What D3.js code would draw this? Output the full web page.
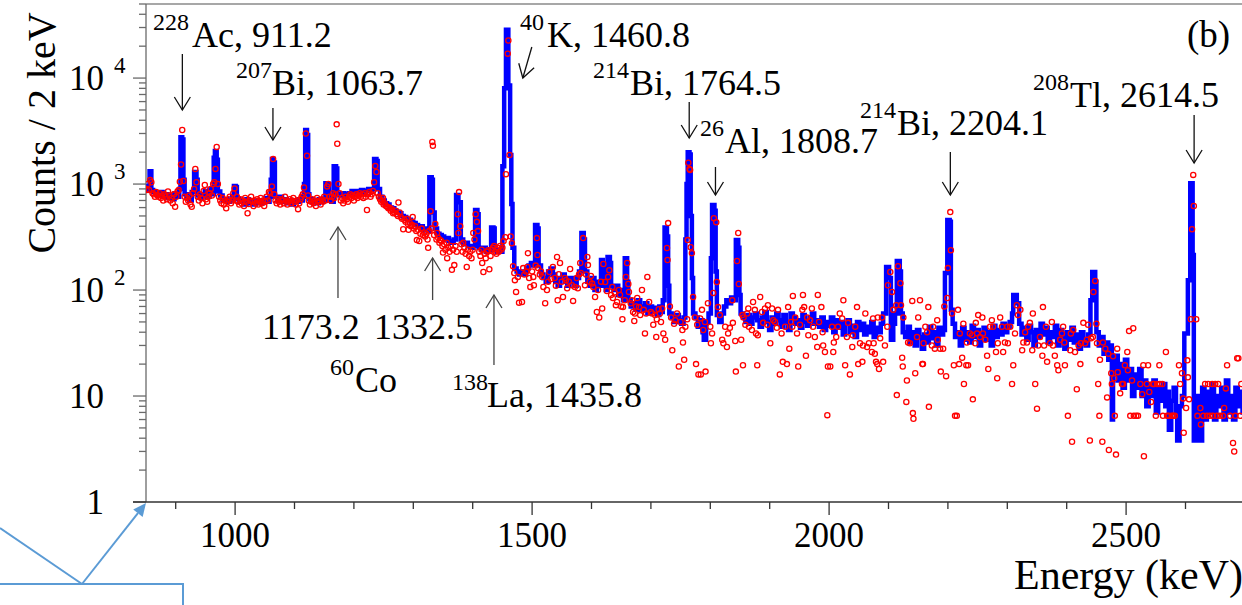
<!DOCTYPE html>
<html>
<head>
<meta charset="utf-8">
<script src="https://cdn.jsdelivr.net/npm/d3@7/dist/d3.min.js"></script>
<style>
html, body { margin: 0; padding: 0; background: #fff; }
svg { display: block; }
</style>
</head>
<body>
<svg id="chart" width="1242" height="605"></svg>
<script>
// ---- axis setup ----
const energyRange = [850, 2700];
const countRange = [1, 5e4];
const xTickValues = [1000, 1500, 2000, 2500];
const xTickLabels = ["1000", "1500", "2000", "2500"];
const yTickValues = [1, 10, 100, 1000, 10000];
const yTickBase = ["1", "10", "10", "10", "10"];
const yTickExp = ["", "", "2", "3", "4"];

// ---- blue histogram: [bin start (keV), counts / 2 keV] ----
const blueLow = [
  [850,880],[852,900],[854,960],[856,1320],[859,880],[862,840],[866,820],[870,780],[874,840],[878,760],[882,800],
  [886,740],[890,780],[894,720],[898,820],[902,760],[906,900],[908,2770],[911,2640],[913,1100],[915,800],
  [919,760],[923,700],[927,840],[931,1300],[935,1100],[937,780],[941,740],[945,800],[949,860],[953,760],
  [957,900],[961,800],[964,1770],[966,2050],[969,1700],[971,850],[975,780],[979,700],[983,720],[987,680],
  [991,700],[995,760],[998,960],[1001,940],[1003,720],[1007,680],[1011,700],[1015,640],[1019,720],[1023,660],
  [1027,700],[1031,640],[1035,680],[1039,700],[1043,660],[1047,700],[1051,740],[1055,680],[1058,760],[1060,1100],
  [1062,1720],[1065,1600],[1067,760],[1071,700],[1075,760],[1079,680],[1083,720],[1087,660],[1091,700],[1095,640],
  [1099,700],[1103,680],[1107,720],[1111,700],[1114,760],[1116,1000],[1118,3240],[1121,2900],[1123,800],[1125,720],
  [1129,680],[1133,700],[1137,660],[1141,720],[1145,680],[1149,700],[1152,1020],[1156,1000],[1158,720],[1162,680],
  [1166,1470],[1170,1400],[1172,800],[1176,780],[1180,820],[1184,760],[1188,800],[1192,820],[1196,860],[1200,800],
  [1204,860],[1208,840],[1212,880],[1216,820],[1220,860],[1224,900],[1228,880],[1231,900],[1234,1720],[1238,1650],
  [1240,900],[1244,760],[1248,700],[1252,660],[1256,640],[1260,600],[1264,590],[1268,560],[1272,540],[1276,530],
  [1280,500],[1284,490],[1288,470],[1292,460],[1296,440],[1300,430],[1304,410],[1308,400],[1312,400],[1316,380],
  [1320,370],[1324,360],[1327,1160],[1331,1100],[1333,540],[1336,380],[1340,340],[1344,330],[1348,320],[1352,300],
  [1356,310],[1360,290],[1364,280],[1368,300],[1372,790],[1376,675],[1380,300],[1384,270],[1388,280],[1392,260],
  [1396,250],[1400,260],[1404,570],[1408,520],[1410,250],[1414,240],[1418,250],[1422,230],[1426,240],[1431,390],
  [1435,380],[1437,240],[1441,230],[1445,230],[1448,230]
];
const blueMid = [
  [1450,1470],[1453,8000],[1456,28500],[1460,8500],[1463,1880],[1465,650],[1467,250],[1470,160],[1474,150],[1478,140],
  [1482,150],[1486,140],[1490,160],[1494,170],[1498,180],[1502,170],[1505,410],[1509,380],[1511,170],[1515,140],
  [1519,130],[1523,120],[1527,150],[1531,160],[1535,140],[1539,120],[1543,110],[1547,130],[1551,140],[1555,120],
  [1559,110],[1563,130],[1567,120],[1571,110],[1575,130],[1579,150],[1583,345],[1587,300],[1589,150],[1593,120],
  [1597,110],[1601,130],[1605,100],[1609,120],[1613,110],[1616,192],[1619,170],[1621,110],[1624,100],[1627,205],
  [1631,180],[1633,110],[1637,100],[1641,110],[1645,90],[1649,100],[1653,80],[1656,200],[1660,120],[1662,80],
  [1666,70],[1670,75],[1674,65],[1678,80],[1682,70],[1686,65],[1690,75],[1694,60],[1698,70],[1702,62],
  [1706,68],[1710,58],[1714,70],[1718,62],[1720,80],[1723,390],[1727,320],[1729,110],[1731,60],[1735,55],
  [1739,50],[1743,58],[1747,52],[1751,48],[1755,55],[1758,300],[1760,1000],[1762,2000],[1765,1900],[1767,500],
  [1769,130],[1771,60],[1775,55],[1779,45],[1783,52],[1787,40],[1789,34],[1793,50],[1797,60],[1801,200],
  [1803,634],[1807,560],[1809,150],[1811,58],[1815,50],[1819,60],[1823,70],[1827,80],[1831,75],[1835,85],
  [1839,80],[1843,296],[1847,250],[1849,90],[1851,60]
];
const blueHigh = [
  [1855,55],[1859,50],[1863,58],[1867,48],[1871,55],[1875,60],[1879,52],[1883,45],[1887,55],[1891,62],
  [1895,50],[1899,42],[1903,55],[1907,48],[1911,60],[1915,52],[1919,45],[1923,58],[1927,50],[1931,42],
  [1935,60],[1939,55],[1943,48],[1947,52],[1951,44],[1955,58],[1959,50],[1963,46],[1967,55],[1971,60],
  [1975,48],[1979,52],[1983,45],[1987,55],[1991,42],[1995,50],[1999,46],[2003,55],[2007,40],[2011,52],
  [2015,44],[2019,50],[2023,38],[2027,48],[2031,52],[2035,40],[2039,46],[2043,36],[2047,50],[2051,42],
  [2055,48],[2059,38],[2063,45],[2067,40],[2071,50],[2075,36],[2079,44],[2083,40],[2087,48],[2091,60],
  [2096,165],[2101,130],[2104,34],[2108,48],[2111,60],[2114,188],[2119,150],[2121,60],[2124,40],[2128,36],
  [2132,45],[2136,32],[2140,40],[2144,30],[2148,42],[2152,36],[2156,28],[2160,38],[2164,32],[2168,45],
  [2172,35],[2176,40],[2180,30],[2184,44],[2188,38],[2192,42],[2195,145],[2199,457],[2203,440],[2205,65],
  [2208,48],[2212,36],[2216,40],[2220,30],[2224,44],[2228,34],[2232,40],[2236,32],[2240,46],[2244,36],
  [2248,42],[2252,30],[2256,38],[2260,44],[2264,34],[2268,40],[2272,30],[2276,46],[2280,36],[2284,42],
  [2288,38],[2292,48],[2296,40],[2300,45],[2304,50],[2308,60],[2310,90],[2316,75],[2320,48],[2324,38],
  [2328,44],[2332,34],[2336,46],[2340,40],[2344,30],[2348,42],[2352,36],[2356,48],[2360,38],[2364,44],
  [2368,32],[2372,40],[2376,36],[2380,46],[2384,30],[2388,42],[2392,36],[2396,28],[2400,40],[2404,34],
  [2408,44],[2412,32],[2416,38],[2420,28],[2424,40],[2428,34],[2432,30],[2436,38],[2440,80],[2443,148],
  [2448,120],[2450,40],[2454,30],[2458,36],[2462,25],[2466,32],[2470,22],[2474,30],[2476,6],[2478,18],
  [2482,24],[2486,14],[2490,20],[2494,12],[2498,22],[2502,14],[2506,18],[2510,10],[2514,16],[2518,12],
  [2522,18],[2526,10],[2530,14],[2534,8],[2538,13],[2542,10],[2546,14],[2550,7],[2554,12],[2558,9],
  [2562,13],[2566,8],[2570,11],[2572,4.8],[2576,9],[2580,12],[2584,7],[2586,3.8],[2590,8],[2594,10],
  [2598,39],[2604,124],[2608,1020],[2612,214],[2614,3.8],[2620,10],[2624,3.8],[2628,12],[2632,6],[2636,11],
  [2640,7],[2644,13],[2648,6],[2652,10],[2656,8],[2660,12],[2664,6],[2668,14],[2672,7],[2676,10],
  [2680,6],[2684,12],[2688,8],[2692,11],[2696,7],[2700,7]
];

// ---- red points: [energy (keV), counts / 2 keV] ----
const redLow = [
  [851,880],[853,1000],[855,880],[857,1090],[859,1040],[861,820],[863,800],[865,760],[867,840],[869,790],
  [871,760],[873,820],[875,740],[877,780],[879,700],[881,800],[883,760],[885,720],[887,850],[889,780],
  [891,700],[893,740],[895,660],[897,800],[899,610],[901,760],[903,850],[905,880],[907,1050],[909,1530],
  [911,3240],[913,1070],[915,760],[917,680],[919,740],[921,700],[923,780],[925,640],[927,610],[929,820],
  [931,900],[933,1390],[935,1040],[937,760],[939,700],[941,800],[943,740],[945,660],[947,860],[949,980],
  [951,720],[953,680],[955,760],[957,820],[959,900],[961,780],[963,1000],[965,1040],[967,1390],[969,2240],
  [971,1000],[973,760],[975,700],[977,660],[979,740],[981,640],[983,700],[985,590],[987,680],[989,720],
  [991,760],[993,660],[995,700],[997,820],[999,910],[1001,700],[1003,760],[1005,680],[1007,640],[1009,720],
  [1011,660],[1013,700],[1015,620],[1017,740],[1019,680],[1021,530],[1023,650],[1025,700],[1027,760],[1029,680],
  [1031,620],[1033,700],[1035,660],[1037,720],[1039,640],[1041,690],[1043,740],[1045,660],[1047,700],[1049,620],
  [1051,680],[1053,760],[1055,700],[1057,840],[1059,820],[1062,950],[1064,1720],[1066,800],[1068,700],[1070,660],
  [1072,720],[1074,680],[1076,640],[1078,720],[1080,700],[1082,660],[1084,760],[1086,700],[1088,640],[1090,680],
  [1092,720],[1094,660],[1096,700],[1098,740],[1100,680],[1102,640],[1104,700],[1106,580],[1108,660],[1110,720],
  [1112,760],[1114,800],[1116,930],[1119,3000],[1121,1850],[1123,780],[1124,700],[1126,640],[1128,680],[1130,720],
  [1132,660],[1134,700],[1136,620],[1138,740],[1140,680],[1142,700],[1144,640],[1146,720],[1148,680],[1150,760],
  [1152,700],[1155,950],[1157,1000],[1159,760],[1161,700],[1163,760],[1165,820],[1167,740],[1169,800],[1171,3660],
  [1172,2400],[1174,1000],[1176,820],[1178,700],[1180,740],[1182,660],[1184,700],[1186,760],[1188,720],[1190,680],
  [1192,760],[1194,800],[1196,740],[1198,780],[1200,700],[1202,760],[1204,800],[1206,740],[1208,780],[1210,820],
  [1212,760],[1214,800],[1216,740],[1218,820],[1220,760],[1222,570],[1224,800],[1226,840],[1228,760],[1230,800],
  [1232,860],[1234,1040],[1236,1480],[1238,1300],[1240,820],[1242,760]
];
const redMid = [
  [1244,720],[1246,680],[1248,700],[1249,740],[1250,640],[1252,660],[1254,620],[1256,610],[1258,590],[1260,600],
  [1262,560],[1264,580],[1266,530],[1268,540],[1270,560],[1272,520],[1274,500],[1275,670],[1277,540],[1279,490],
  [1281,470],[1283,375],[1285,460],[1287,440],[1289,470],[1291,420],[1292,370],[1294,430],[1296,400],[1298,410],
  [1299,490],[1301,380],[1303,400],[1305,360],[1306,296],[1308,370],[1310,290],[1312,340],[1314,380],[1316,330],
  [1318,350],[1320,320],[1322,340],[1324,300],[1325,250],[1327,360],[1329,555],[1331,380],[1332,2500],[1333,2300],
  [1335,330],[1337,420],[1339,300],[1340,345],[1342,310],[1344,280],[1345,296],[1347,290],[1349,260],[1350,226],
  [1352,270],[1354,240],[1356,280],[1357,200],[1359,250],[1361,230],[1363,260],[1365,155],[1367,240],[1369,172],
  [1371,260],[1373,230],[1375,520],[1376,345],[1377,840],[1379,400],[1381,270],[1383,230],[1384,280],[1386,250],
  [1388,220],[1390,165],[1392,240],[1394,210],[1396,230],[1398,200],[1400,240],[1401,345],[1403,300],[1405,520],
  [1407,440],[1409,360],[1411,230],[1413,210],[1415,240],[1416,180],[1418,148],[1420,220],[1422,200],[1424,230],
  [1426,238],[1428,157],[1430,210],[1432,240],[1434,250],[1436,260],[1438,230],[1440,220],[1442,250],[1444,230],
  [1446,260],[1448,240],[1450,250],[1452,290],[1455,315],[1456,1240],[1459,17000],[1460,22600],[1462,1880],[1464,320],
  [1466,277],[1468,168],[1470,145],[1471,124],[1473,96],[1476,133],[1478,76],[1483,77],[1485,161],[1487,140],
  [1490,150],[1492,165],[1493,223],[1495,130],[1497,107],[1500,150],[1502,133],[1503,111],[1506,170],[1508,309],
  [1509,214],[1510,161],[1513,140],[1515,150],[1517,133],[1519,107],[1522,75],[1525,100],[1527,120],[1529,148],
  [1532,127],[1535,165],[1538,130],[1540,110],[1542,205],[1543,80],[1545,141],[1547,180],[1550,120],[1552,86],
  [1555,130],[1557,124],[1559,104],[1562,120],[1564,158],[1567,111],[1569,79],[1572,107],[1575,130],[1577,104],
  [1579,140],[1581,180],[1582,145],[1586,309],[1589,111],[1591,140],[1593,205],[1594,172],[1597,120],[1599,136],
  [1601,115],[1603,107],[1606,86],[1609,62],[1611,100],[1613,55],[1616,120],[1618,67],[1620,176],[1623,119],
  [1626,98],[1628,133],[1630,154],[1633,90],[1635,107],[1636,84],[1639,95],[1641,72],[1643,77],[1646,100],
  [1648,90],[1650,70],[1652,53],[1653,69],[1656,80],[1658,133],[1660,180],[1662,114],[1663,96],[1666,75],
  [1668,80],[1670,62],[1672,51],[1673,60],[1675,70],[1677,84],[1680,69],[1682,58],[1685,100],[1688,65],
  [1690,39],[1692,60],[1694,133],[1697,77],[1700,62],[1702,60],[1704,47],[1707,58],[1709,36],[1710,53],
  [1713,66],[1715,60],[1717,50],[1719,67],[1721,39],[1724,34],[1727,249],[1728,192],[1729,428],[1732,70],
  [1734,55],[1736,27],[1739,48],[1741,52],[1744,60],[1747,19],[1750,50],[1753,42],[1754,32],[1756,22],
  [1758,45],[1761,53],[1762,296],[1763,1590],[1765,1390],[1766,1360],[1767,254],[1769,223],[1771,86],[1774,55],
  [1776,20],[1778,47],[1780,16]
];
const redHigh = [
  [1783,54],[1784,16],[1786,65],[1788,42],[1791,50],[1792,17],[1796,75],[1800,45],[1801,31.5],[1803,39],
  [1805,94],[1806,477],[1810,437],[1811,119],[1813,69],[1816,58],[1820,34],[1822,31.5],[1825,45],[1828,29],
  [1830,39],[1833,44],[1837,80],[1838,49],[1842,33],[1843,17],[1845,188],[1847,345],[1848,114],[1852,34],
  [1854,58],[1855,19.5],[1856,55],[1859,47],[1862,60],[1864,67],[1865,45],[1870,42],[1872,77],[1875,65],
  [1877,39],[1879,19.5],[1880,37.5],[1884,86],[1887,62],[1889,49],[1892,67],[1896,47],[1897,72],[1901,31.5],
  [1904,67],[1906,52],[1909,50],[1912,44],[1914,65],[1917,16],[1920,39],[1922,21],[1926,45],[1929,20],
  [1931,69],[1933,28],[1936,50],[1938,45],[1939,88],[1943,55],[1946,39],[1948,19],[1951,47],[1955,65],
  [1956,90],[1958,69],[1961,24],[1963,55],[1965,37.5],[1968,52],[1971,67],[1973,45],[1976,36],[1980,29],
  [1981,90],[1983,50],[1987,69],[1989,40],[1990,30],[1993,26],[1997,6.6],[1998,19],[2002,19],[2005,45],
  [2007,26],[2008,32],[2012,36],[2015,45],[2018,60],[2022,54],[2024,80],[2027,19.5],[2030,36],[2032,49],
  [2035,16],[2039,29],[2040,37.5],[2044,45],[2047,69],[2049,20],[2052,31.5],[2056,21],[2057,30],[2061,60],
  [2064,29],[2067,31.5],[2072,26],[2074,54],[2075,31.5],[2077,25],[2079,21],[2081,20],[2082,55],[2084,18],
  [2086,35],[2089,55],[2091,21],[2094,30],[2098,45],[2099,111],[2103,148],[2106,96],[2108,65],[2113,72],
  [2114,10.2],[2116,168],[2120,116],[2121,72],[2123,23],[2124,19],[2125,55],[2130,8.8],[2131,14],[2133,32],
  [2136,31.5],[2140,79],[2141,6.9],[2142,6.1],[2145,16.4],[2148,36],[2150,55],[2153,80],[2157,20],[2158,20],
  [2159,31.5],[2162,45],[2165,40],[2167,69],[2168,7.9],[2173,30],[2175,45],[2178,28],[2182,52],[2183,34],
  [2187,28],[2188,17],[2192,28],[2194,70],[2197,15.4],[2199,84],[2200,161],[2204,544],[2205,238],[2207,60],
  [2210,19.5],[2212,6.5],[2215,6.5],[2217,65],[2219,20],[2220,39],[2224,23],[2226,48],[2227,13],[2231,19.5],
  [2232,32],[2234,19.5],[2237,39],[2241,37.5],[2242,9.3],[2246,31.5],[2247,49],[2249,39],[2251,58],[2254,36],
  [2258,55],[2259,39],[2263,34],[2266,24],[2268,18],[2271,45],[2274,52],[2276,45],[2281,26],[2283,14.7],
  [2284,31.5],[2288,55],[2291,45],[2293,26],[2296,32],[2300,45],[2301,31.5],[2305,45],[2308,13],[2310,19.5],
  [2313,39],[2316,72],[2318,58],[2322,65],[2325,27],[2327,32],[2330,40],[2333,32],[2335,45],[2338,49],
  [2342,27],[2343,60],[2347,13],[2350,7.6],[2352,30],[2355,36],[2359,24],[2360,69],[2362,30],[2365,45],
  [2367,21],[2372,31.5],[2375,50],[2377,30],[2380,24],[2384,19.5],[2386,17.5],[2389,34],[2392,39],[2394,45],
  [2396,32],[2397,19.5],[2402,6.5],[2406,27],[2407,39],[2409,3.7],[2411,42],[2414,26],[2417,11.6],[2420,30],
  [2423,20],[2424,31.5],[2428,49],[2431,31.5],[2434,34],[2436,47],[2439,3.8],[2441,35],[2444,36],[2445,96],
  [2448,122],[2450,48],[2451,31.5],[2453,13],[2455,6.5],[2456,22],[2460,3.7],[2461,32],[2465,28],[2468,9.7],
  [2470,25],[2471,3.1],[2475,16.4],[2476,13],[2478,23.7],[2480,14.7],[2481,6.5],[2483,2.8],[2485,28],[2486,16.8],
  [2490,10.6],[2493,13],[2495,13],[2498,19.5],[2502,26],[2503,17.5],[2505,41],[2507,6.5],[2510,14],[2512,43.6],
  [2513,6.5],[2517,6.5],[2520,6.5],[2524,13],[2527,10.4],[2529,19.5],[2530,2.7],[2535,13],[2537,19.5],[2539,10.9],
  [2542,8.8],[2545,13],[2547,13],[2550,6.5],[2552,13],[2556,19.5],[2557,13],[2561,13],[2562,6.5],[2567,26],
  [2569,6.5],[2572,6.5],[2577,6.5],[2579,6.5],[2582,6.5],[2589,19.5],[2591,13],[2594,16.4],[2596,9.5],[2597,4.5],
  [2601,7.7],[2603,21.7],[2604,15],[2606,9.3],[2609,53],[2611,375],[2613,1220],[2614,620],[2618,53],[2620,6.5],
  [2625,7.7],[2626,5.4],[2630,6.5],[2633,13],[2636,6.5],[2638,13],[2641,6.5],[2645,13],[2646,6.5],[2650,13],
  [2653,6.5],[2655,13],[2658,6.5],[2663,6.5],[2665,7.7],[2668,11.8],[2670,19.5],[2675,6.5],[2680,3.6],[2682,3.0],
  [2684,6.5],[2687,22.7],[2689,22.7],[2692,6.5],[2694,13]
];

// ---- peak labels ----
const peakLabels = [
  {sup: "228", name: "Ac, 911.2",   energy: 911.2,  sx: 153,  nx: 192, y: 47,  a1: 54,  a2: 110},
  {sup: "207", name: "Bi, 1063.7",  energy: 1063.7, sx: 236,  nx: 272, y: 95,  a1: 108, a2: 140},
  {sup: "214", name: "Bi, 1764.5",  energy: 1764.5, sx: 593,  nx: 630, y: 95,  a1: 102, a2: 138},
  {sup: "26",  name: "Al, 1808.7",  energy: 1808.7, sx: 700,  nx: 725, y: 153, a1: 167, a2: 195},
  {sup: "214", name: "Bi, 2204.1",  energy: 2204.1, sx: 860,  nx: 897, y: 135, a1: 152, a2: 195},
  {sup: "208", name: "Tl, 2614.5",  energy: 2614.5, sx: 1033, nx: 1070, y: 107, a1: 115, a2: 163}
];
const lowLabels = [
  {energy: 1173.2, a1: 298, a2: 227},
  {energy: 1332.5, a1: 300, a2: 258},
  {energy: 1435.8, a1: 365, a2: 295}
];

const FONT = "'Liberation Serif', 'DejaVu Serif', 'Times New Roman', Times, serif";
const svg = d3.select("#chart")
  .attr("font-family", FONT)
  .style("font-family", FONT);
const x = d3.scaleLinear().domain(energyRange).range([146, 146 + 1850 * 0.594]);
const y = d3.scaleLog().domain(countRange).range([502, 4]);

function label(g, tx, ty, size, str, anchor) {
  return g.append("text")
    .attr("x", tx).attr("y", ty)
    .attr("font-family", FONT)
    .attr("font-size", size)
    .attr("text-anchor", anchor || "start")
    .attr("fill", "#000")
    .text(str);
}

// frame
svg.append("line").attr("x1", 146).attr("x2", 1242).attr("y1", 4).attr("y2", 4)
  .attr("stroke", "#8a8a8a").attr("stroke-width", 1.5);

// y axis
const yAxis = svg.append("g").attr("stroke", "#6a6a6a").attr("stroke-width", 1.3);
yAxis.append("line").attr("x1", 146).attr("x2", 146).attr("y1", 4).attr("y2", 502);
yTickValues.forEach(v => {
  yAxis.append("line").attr("x1", 133).attr("x2", 146).attr("y1", y(v)).attr("y2", y(v));
  for (let m = 2; m <= 9; m++) {
    const mv = v * m;
    if (mv > countRange[1]) break;
    yAxis.append("line").attr("x1", 139).attr("x2", 146).attr("y1", y(mv)).attr("y2", y(mv));
  }
});
yTickValues.forEach((v, i) => {
  label(svg, 104, y(v) + 12, 35, yTickBase[i], "end");
  if (yTickExp[i]) label(svg, 114, y(v) - 5, 23, yTickExp[i]);
});

// x axis
const xAxis = svg.append("g").attr("stroke", "#333").attr("stroke-width", 1.3);
xAxis.append("line").attr("x1", 133).attr("x2", 1242).attr("y1", 502).attr("y2", 502);
d3.range(900, 2701, 100).forEach(v => {
  const major = xTickValues.includes(v);
  xAxis.append("line").attr("x1", x(v)).attr("x2", x(v))
    .attr("y1", 502).attr("y2", major ? 515 : 509);
});
xTickValues.forEach((v, i) => label(svg, x(v), 547, 35, xTickLabels[i], "middle"));

// axis titles
label(svg, 0, 0, 40, "Counts / 2 keV", "middle").attr("transform", "translate(55,133) rotate(-90)");
label(svg, 1243, 589, 42, "Energy (keV)", "end");
label(svg, 1187, 47, 37, "(b)");

// data
svg.append("clipPath").attr("id", "plotClip").append("rect")
  .attr("x", 146).attr("y", 4).attr("width", 1100).attr("height", 498);
const plot = svg.append("g").attr("clip-path", "url(#plotClip)");

const blueHist = blueLow.concat(blueMid, blueHigh);
const histLine = d3.line()
  .x(d => x(d[0]))
  .y(d => y(d[1]))
  .curve(d3.curveStepAfter);
plot.append("path").datum(blueHist)
  .attr("d", histLine)
  .attr("fill", "none")
  .attr("stroke", "#0000ff")
  .attr("stroke-width", 4.5)
  .attr("stroke-linejoin", "miter");

const redPoints = redLow.concat(redMid, redHigh);
plot.selectAll("circle.pt").data(redPoints).enter().append("circle")
  .attr("class", "pt")
  .attr("cx", d => x(d[0]))
  .attr("cy", d => y(d[1]))
  .attr("r", 2.6)
  .attr("fill", "none")
  .attr("stroke", "#ff0000")
  .attr("stroke-width", 1.3);

// annotations
function arrow(g, x1, y1, x2, y2, color) {
  g.append("line").attr("x1", x1).attr("y1", y1).attr("x2", x2).attr("y2", y2)
    .attr("stroke", color).attr("stroke-width", 1.3);
  const len = Math.hypot(x2 - x1, y2 - y1);
  const ux = (x2 - x1) / len, uy = (y2 - y1) / len;
  const bx = x2 - ux * 13, by = y2 - uy * 13;
  g.append("path")
    .attr("d", `M${bx + uy * 8},${by - ux * 8}L${x2},${y2}L${bx - uy * 8},${by + ux * 8}`)
    .attr("fill", "none").attr("stroke", color).attr("stroke-width", 1.3);
}

const notes = svg.append("g");
peakLabels.forEach(p => {
  label(notes, p.sx, p.y - 17, 24, p.sup);
  label(notes, p.nx, p.y, 36, p.name);
  arrow(notes, x(p.energy), p.a1, x(p.energy), p.a2, "#111");
});
// 40K with slanted arrow
const xK = x(1460.8);
label(notes, 520, 30, 24, "40");
label(notes, 547, 47, 36, "K, 1460.8");
arrow(notes, xK + 23, 47, xK + 14, 78, "#111");

// arrows from below
lowLabels.forEach(p => arrow(notes, x(p.energy), p.a1, x(p.energy), p.a2, "#444"));
label(notes, 262, 339, 36, "1173.2");
label(notes, 374, 339, 36, "1332.5");
label(notes, 330, 375, 24, "60");
label(notes, 355, 392, 36, "Co");
label(notes, 452, 390, 24, "138");
label(notes, 487, 407, 36, "La, 1435.8");

// blue callout at the lower left
const callout = svg.append("g").attr("stroke", "#5b9bd5").attr("stroke-width", 2).attr("fill", "none");
callout.append("path").attr("d", "M0,528L82,584");
callout.append("path").attr("d", "M0,584L183,584L183,606");
const tip = [146, 503], tail = [82, 584];
const cl = Math.hypot(tip[0] - tail[0], tip[1] - tail[1]);
const cu = [(tip[0] - tail[0]) / cl, (tip[1] - tail[1]) / cl];
const cb = [tip[0] - cu[0] * 13, tip[1] - cu[1] * 13];
callout.append("path").attr("d", `M${tail[0]},${tail[1]}L${cb[0]},${cb[1]}`);
svg.append("path")
  .attr("d", `M${tip[0]},${tip[1]}L${cb[0] - cu[1] * 6},${cb[1] + cu[0] * 6}L${cb[0] + cu[1] * 6},${cb[1] - cu[0] * 6}Z`)
  .attr("fill", "#5b9bd5");
</script>
</body>
</html>
